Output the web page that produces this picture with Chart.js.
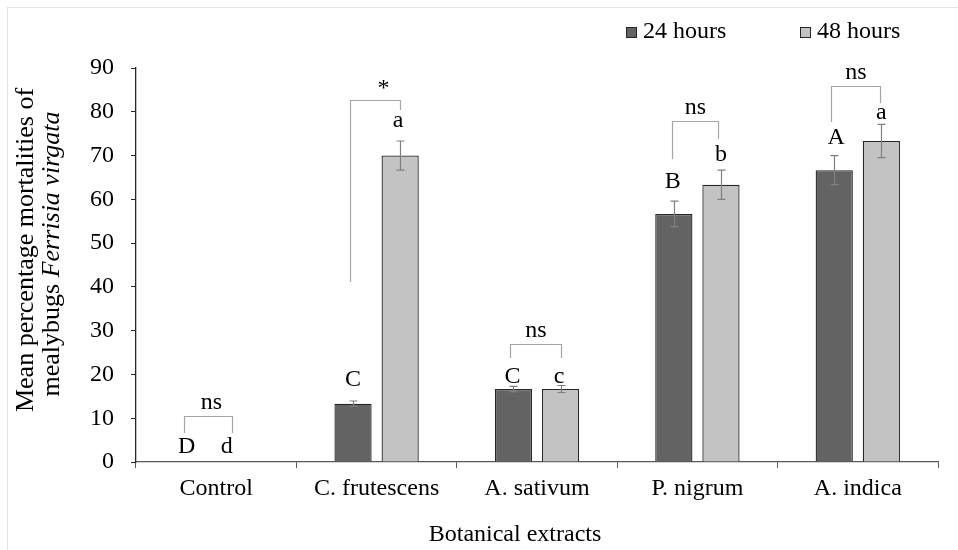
<!DOCTYPE html>
<html><head><meta charset="utf-8">
<script src="https://cdn.jsdelivr.net/npm/chart.js@4.4.1/dist/chart.umd.min.js"></script>
<style>html,body{margin:0;padding:0;background:#fff}#wrap{width:958px;height:550px;position:relative}</style>
</head><body><div id="wrap"><canvas id="c" width="958" height="550"></canvas></div>
<script>
const categories = ["Control", "C. frutescens", "A. sativum", "P. nigrum", "A. indica"];
const seriesNames = ["24 hours", "48 hours"];
const values24 = [0, 13.33, 16.67, 56.67, 66.67];
const values48 = [0, 70.0, 16.67, 63.33, 73.33];
const err24 = [0, 0.6, 0.6, 2.9, 3.33];
const err48 = [0, 3.33, 0.8, 3.33, 3.8];
const letters24 = ["D", "C", "C", "B", "A"];
const letters48 = ["d", "a", "c", "b", "a"];
const significance = ["ns", "*", "ns", "ns", "ns"];
const yTicks = [0, 10, 20, 30, 40, 50, 60, 70, 80, 90];

const FONT = "'Liberation Serif','Times New Roman',serif";
const FS = 24;
const TFS = 26;

// annotation layout (pixel offsets relative to bars)
const annot = [
  {l:[-6,447], r:[-13,447], br:{y:416, lx:-9, rx:-8, ly:433, ry:433}, s:3},
  {l:[0,380], r:[-2,121], br:{y:100, lx:-3, rx:0, ly:282, ry:110}, s:8},
  {l:[-1,377], r:[-1.5,377], br:{y:344, lx:-3, rx:0, ly:358, ry:358}, s:0},
  {l:[-1,182], r:[0,155], br:{y:121, lx:-2, rx:-3, ly:159, ry:139}, s:0},
  {l:[2,138], r:[0,113], br:{y:86, lx:-3, rx:-1, ly:122, ry:103}, s:0}
];

const extras = {
  id: 'extras',
  beforeDraw(chart) {
    const ctx = chart.ctx;
    ctx.save();
    ctx.strokeStyle = '#e6e6e6';
    ctx.lineWidth = 1;
    ctx.strokeRect(7.5, 7.5, 1000, 1000);
    ctx.restore();
  },
  afterDatasetsDraw(chart) {
    const ctx = chart.ctx;
    const y = chart.scales.y;
    const m0 = chart.getDatasetMeta(0).data;
    const m1 = chart.getDatasetMeta(1).data;
    ctx.save();
    // error bars
    ctx.strokeStyle = '#808080';
    ctx.lineWidth = 1.2;
    const errs = [err24, err48];
    [m0, m1].forEach((meta, d) => {
      const vals = d === 0 ? values24 : values48;
      meta.forEach((bar, i) => {
        const e = errs[d][i];
        if (!e) return;
        const x = Math.round(bar.x) + 0.5;
        const yt = y.getPixelForValue(vals[i] + e);
        const yb = y.getPixelForValue(vals[i] - e);
        ctx.beginPath();
        ctx.moveTo(x, yt); ctx.lineTo(x, yb);
        ctx.moveTo(x - 4, yt); ctx.lineTo(x + 4, yt);
        ctx.moveTo(x - 4, yb); ctx.lineTo(x + 4, yb);
        ctx.stroke();
      });
    });
    // brackets
    ctx.strokeStyle = '#a6a6a6';
    ctx.lineWidth = 1.2;
    ctx.fillStyle = '#000';
    ctx.font = FS + 'px ' + FONT;
    ctx.textAlign = 'center';
    ctx.textBaseline = 'middle';
    categories.forEach((c, i) => {
      const a = annot[i];
      const xl = Math.round(m0[i].x + a.br.lx) + 0.5;
      const xr = Math.round(m1[i].x + a.br.rx) + 0.5;
      const by = a.br.y + 0.5;
      ctx.beginPath();
      ctx.moveTo(xl, a.br.ly); ctx.lineTo(xl, by); ctx.lineTo(xr, by); ctx.lineTo(xr, a.br.ry);
      ctx.stroke();
      ctx.fillText(significance[i], (xl + xr) / 2 + a.s, by - (significance[i] === '*' ? 12 : 13.5));
      ctx.fillText(letters24[i], m0[i].x + a.l[0], a.l[1]);
      ctx.fillText(letters48[i], m1[i].x + a.r[0], a.r[1]);
    });
    // y axis title (two lines, second partly italic)
    ctx.save();
    ctx.translate(26, 250);
    ctx.rotate(-Math.PI / 2);
    ctx.textAlign = 'center';
    ctx.font = TFS + 'px ' + FONT;
    ctx.fillText('Mean percentage mortalities of', 0, 0);
    const p1 = 'mealybugs ';
    const p2 = 'Ferrisia virgata';
    ctx.font = TFS + 'px ' + FONT;
    const w1 = ctx.measureText(p1).width;
    ctx.font = 'italic ' + TFS + 'px ' + FONT;
    const w2 = ctx.measureText(p2).width;
    const sx = -(w1 + w2) / 2;
    ctx.textAlign = 'left';
    ctx.font = TFS + 'px ' + FONT;
    ctx.fillText(p1, sx - 4, 26);
    ctx.font = 'italic ' + TFS + 'px ' + FONT;
    ctx.fillText(p2, sx - 4 + w1, 26);
    ctx.restore();
    // x axis title
    ctx.font = FS + 'px ' + FONT;
    ctx.textAlign = 'center';
    ctx.fillText('Botanical extracts', 515, 535);
    ctx.restore();
  },
  afterDraw(ch) {
    const ctx = ch.ctx;
    ctx.save();
    ctx.font = FS + 'px ' + FONT;
    ctx.textBaseline = 'middle';
    ctx.textAlign = 'left';
    const xs = [626, 800];
    ch.data.datasets.forEach((ds, i) => {
      ctx.fillStyle = ds.backgroundColor;
      ctx.strokeStyle = '#262626';
      ctx.lineWidth = 1;
      ctx.fillRect(xs[i], 27, 11, 11);
      ctx.strokeRect(xs[i] + 0.5, 27.5, 10, 10);
      ctx.fillStyle = '#000';
      ctx.fillText(ds.label, xs[i] + 17, 32);
    });
    ctx.restore();
  }
};

new Chart(document.getElementById('c'), {
  type: 'bar',
  data: {
    labels: categories,
    datasets: [
      {label: seriesNames[0], data: values24, backgroundColor: '#636363', borderColor: '#262626', borderWidth: 1.3,
       categoryPercentage: 0.5875, barPercentage: 0.79},
      {label: seriesNames[1], data: values48, backgroundColor: '#c3c3c3', borderColor: '#262626', borderWidth: 1.3,
       categoryPercentage: 0.5875, barPercentage: 0.79}
    ]
  },
  plugins: [extras],
  options: {
    responsive: false,
    animation: false,
    layout: {padding: {left: 0, right: 20, top: 68, bottom: 0}},
    plugins: {
      legend: {display: false},
      tooltip: {enabled: false}
    },
    scales: {
      x: {
        grid: {display: true, drawOnChartArea: false, drawTicks: true, tickLength: 6, color: '#595959', offset: true},
        border: {color: '#595959', width: 1.3},
        ticks: {font: {family: FONT, size: FS}, color: '#000', padding: 6, maxRotation: 0, autoSkip: false},
        afterFit(s) { s.height = 88; }
      },
      y: {
        min: 0, max: 90,
        afterBuildTicks(s) { s.ticks = yTicks.map(v => ({value: v})); },
        grid: {display: true, drawOnChartArea: false, drawTicks: true, tickLength: 5, color: '#262626'},
        border: {color: '#262626', width: 1.3},
        ticks: {font: {family: FONT, size: FS}, color: '#000', padding: 17},
        afterFit(s) { s.width = 136; }
      }
    }
  }
});
</script>
</body></html>
